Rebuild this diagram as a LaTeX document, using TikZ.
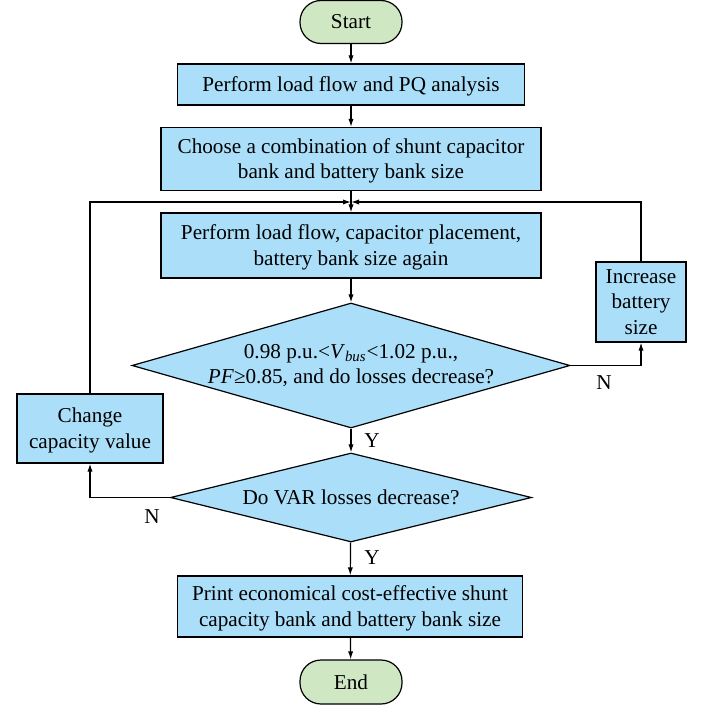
\documentclass[tikz,border=0pt]{standalone}
\usepackage{fontspec}
\setmainfont{Liberation Serif}
\usepackage{xcolor}
\usetikzlibrary{shapes.geometric,arrows.meta}
\definecolor{boxblue}{RGB}{171,223,249}
\definecolor{termgreen}{RGB}{208,231,196}
\tikzset{
	every node/.style={font=\fontsize{10.6}{12.8}\selectfont},
	flowline/.style={line width=0.6pt,-{Latex[length=4pt,width=2.6pt]}},
	procbox/.style={draw,line width=0.6pt,fill=boxblue,inner sep=0pt,align=center,text depth=0.3pt},
	decide/.style={draw,diamond,line width=0.6pt,fill=boxblue,inner sep=0pt,align=center},
	terminal/.style={draw,line width=0.6pt,fill=termgreen,rounded corners=10.5pt,inner sep=0pt,minimum width=51pt,minimum height=21.5pt,text depth=0.3pt},
	branch/.style={font=\fontsize{10.6}{12.8}\selectfont}
}
\begin{document}
\begin{tikzpicture}[x=0.5pt,y=-0.5pt]
		\useasboundingbox (0,0) rectangle (704,706);
		% main column
		\node[terminal] (start) at (351,22) {Start};
		\node[procbox,minimum width=173.5pt,minimum height=20.5pt] (pq) at (351,84.5) {Perform load flow and PQ analysis};
		\node[procbox,minimum width=190pt,minimum height=31.5pt] (choose) at (351,159) {Choose a combination of shunt capacitor\\bank and battery bank size};
		\coordinate (join) at (351,202);
		\node[procbox,minimum width=190pt,minimum height=32.5pt] (again) at (351,245.5) {Perform load flow, capacitor placement,\\battery bank size again};
		\node[decide,aspect=3.5,minimum width=219pt,minimum height=62.5pt] (check) at (351,365.5) {0.98 p.u.<\textit{V}\textsubscript{\textit{bus}}<1.02 p.u.,\\\textit{PF}≥0.85, and do losses decrease?};
		\node[decide,aspect=4.05,minimum width=180.5pt,minimum height=44.5pt] (varloss) at (351,497.5) {Do VAR losses decrease?};
		\node[procbox,minimum width=172.5pt,minimum height=30.5pt] (result) at (350,606.5) {Print economical cost-effective shunt\\capacity bank and battery bank size};
		\node[terminal,minimum height=22pt] (stop) at (351,682) {End};
		% side boxes
		\node[procbox,minimum width=45pt,minimum height=40pt] (incbat) at (641,302) {Increase\\battery\\size};
		\node[procbox,minimum width=73pt,minimum height=34.5pt] (chgcap) at (90,428.5) {Change\\capacity value};
		% connectors
		\draw[flowline] (start) -- (pq);
		\draw[flowline] (pq) -- (choose);
		\draw[flowline] (choose) -- (again);
		\draw[flowline] (again) -- (check);
		\draw[flowline] (check) -- (varloss);
		\draw[flowline] (varloss) -- (result);
		\draw[flowline] (result) -- (stop);
		\draw[flowline] (check.east) -| (incbat.south);
		\draw[flowline] (incbat.north) |- (join);
		\draw[flowline] (varloss.west) -| (chgcap.south);
		\draw[flowline] (chgcap.north) |- (join);
		% branch labels
		\node[branch] (nright) at (604,383) {N};
		\node[branch] (yfirst) at (372,441) {Y};
		\node[branch] (nleft) at (152,517) {N};
		\node[branch] (ysecond) at (372,558) {Y};
	\end{tikzpicture}
\end{document}
